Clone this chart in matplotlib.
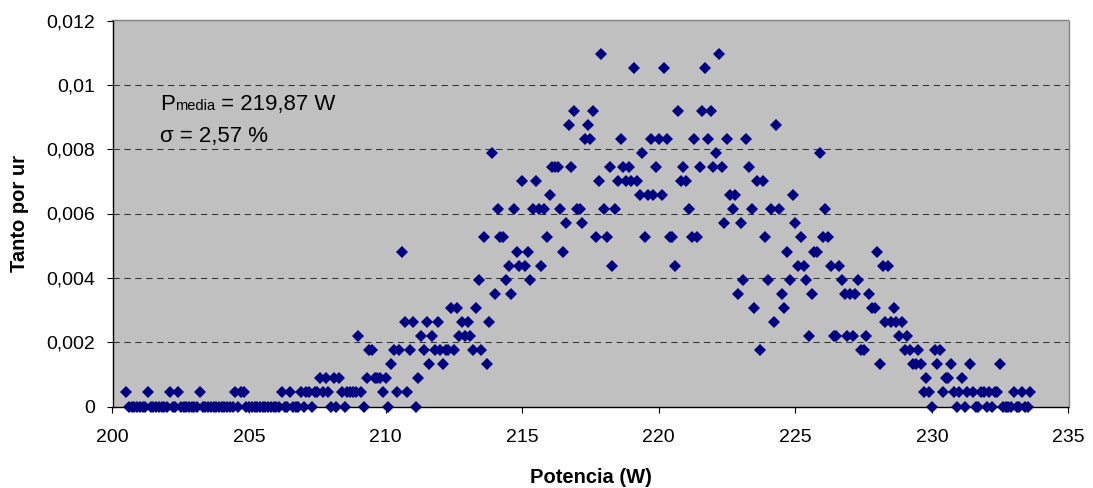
import numpy as np
import matplotlib
matplotlib.use("Agg")
import matplotlib.pyplot as plt
from matplotlib.ticker import FuncFormatter

plt.rcParams['font.family'] = ['Liberation Sans', 'DejaVu Sans']

# histogram of measured power, 0.1 W bins starting at 200.5 W
bin_start = 200.5
bin_width = 0.1
counts = [
    1, 0, 0, 0, 0, 0, 0, 0, 1, 0,          # 200.5
    0, 0, 0, 0, 0, 0, 1, 0, 0, 1,          # 201.5
    0, 0, 0, 0, 0, 0, 0, 1, 0, 0,          # 202.5
    0, 0, 0, 0, 0, 0, 0, 0, 0, 0,          # 203.5
    1, 0, 1, 1, 0, 0, 0, 0, 0, 0,          # 204.5
    0, 0, 0, 0, 0, 0, 0, 1, 0, 0,          # 205.5
    1, 0, 0, 0, 1, 0, 1, 1, 0, 1,          # 206.5
    1, 2, 1, 2, 1, 0, 2, 0, 2, 1,          # 207.5
    0, 1, 1, 1, 1, 5, 1, 0, 2, 4,          # 208.5
    4, 2, 2, 2, 1, 2, 0, 3, 4, 1,          # 209.5
    4, 11, 6, 1, 4, 6, 0, 2, 5, 4,         # 210.5
    6, 3, 5, 4, 6, 4, 3, 4, 4, 7,          # 211.5
    4, 7, 5, 6, 5, 6, 5, 4, 7, 9,          # 212.5
    4, 12, 3, 6, 18, 8, 14, 12, 12, 9,     # 213.5
    10, 8, 14, 11, 10, 16, 10, 11, 9, 14,  # 214.5
    16, 14, 10, 14, 12, 15, 17, 17, 17, 14,  # 215.5
    11, 13, 20, 17, 21, 14, 14, 13, 19, 20,  # 216.5
    19, 21, 12, 16, 25, 14, 12, 17, 10, 14,  # 217.5
    16, 19, 17, 16, 17, 16, 24, 16, 15, 18,  # 218.5
    12, 15, 19, 15, 17, 19, 15, 24, 19, 12,  # 219.5
    12, 10, 21, 16, 17, 16, 14, 12, 19, 12,  # 220.5
    17, 21, 24, 19, 21, 17, 18, 25, 17, 13,  # 221.5
    19, 15, 14, 15, 8, 13, 9, 19, 17, 14,  # 222.5
    7, 16, 4, 16, 12, 9, 14, 6, 20, 14,    # 223.5
    8, 7, 11, 9, 15, 13, 10, 12, 10, 9,    # 224.5
    5, 8, 11, 11, 18, 12, 14, 12, 10, 5,   # 225.5
    5, 10, 9, 8, 5, 8, 5, 8, 9, 4,         # 226.5
    4, 5, 8, 7, 7, 11, 3, 10, 6, 10,       # 227.5
    6, 7, 6, 5, 6, 4, 5, 4, 3, 3,          # 228.5
    4, 3, 1, 2, 1, 0, 4, 3, 4, 1,          # 229.5
    2, 2, 3, 1, 0, 1, 2, 0, 1, 3,          # 230.5
    1, 0, 0, 1, 1, 0, 1, 0, 1, 1,          # 231.5
    3, 0, 0, 0, 0, 1, 0, 0, 1, 0,          # 232.5
    0, 1,                                  # 233.5
]

x_ticks = [200, 205, 210, 215, 220, 225, 230, 235]
y_ticks = [0, 0.002, 0.004, 0.006, 0.008, 0.01, 0.012]

p_label = 'P'
p_sub = 'media'
p_value = ' = 219,87 W'
sigma_text = '\u03c3 = 2,57 %'

counts = np.array(counts)
potencia = bin_start + bin_width * np.arange(len(counts))
tanto = counts / counts.sum()

W, H = 1093, 488
fig = plt.figure(figsize=(W / 100, H / 100), dpi=100)
ax = fig.add_axes([112.5 / W, 1 - 406.5 / H, 956 / W, 386 / H])
ax.set_facecolor('#C0C0C0')

ax.plot(potencia, tanto, linestyle='none', marker='D', markersize=5.8,
        color='#000080', markeredgewidth=0, clip_on=False, zorder=5)

ax.set_xlim(200, 235)
ax.set_ylim(0, 0.012)
ax.set_xticks(x_ticks)
ax.set_yticks(y_ticks)
ax.yaxis.set_major_formatter(FuncFormatter(lambda v, p: f"{v:g}".replace('.', ',')))

for y in y_ticks[1:-1]:
    ax.axhline(y, color='#333333', linewidth=0.75, linestyle=(0, (6, 4.5)), zorder=1)

for s in ['top', 'right']:
    ax.spines[s].set_color('#808080')
    ax.spines[s].set_linewidth(1.0)
for s in ['left', 'bottom']:
    ax.spines[s].set_color('black')
    ax.spines[s].set_linewidth(1.0)
    ax.spines[s].set_zorder(4)

ax.tick_params(axis='both', direction='out', length=4.3, width=0.8,
               labelsize=14, color='black')
ax.tick_params(axis='y', pad=8)
ax.tick_params(axis='x', pad=12)

fig.text(590.5 / W, 1 - 483 / H, 'Potencia (W)', ha='center', va='baseline',
         fontsize=14.5, fontweight='bold')
fig.text(20 / W, 1 - 213.5 / H, 'Tanto por ur', ha='center', va='center',
         rotation=90, fontsize=14.5, fontweight='bold')

# annotation with small "media" on the same baseline as P
fig.canvas.draw()
r = fig.canvas.get_renderer()
inv = fig.transFigure.inverted()
x0, yb = 160 / W, 1 - 110 / H
t1 = fig.text(x0, yb, p_label, fontsize=16, va='baseline')
x1 = inv.transform((t1.get_window_extent(r).x1, 0))[0]
t2 = fig.text(x1, yb, p_sub, fontsize=10.5, va='baseline')
x2 = inv.transform((t2.get_window_extent(r).x1, 0))[0]
fig.text(x2, yb, p_value, fontsize=16, va='baseline')
fig.text(x0, 1 - 142 / H, sigma_text, fontsize=16, va='baseline')

fig.savefig('out.png', dpi=100)
